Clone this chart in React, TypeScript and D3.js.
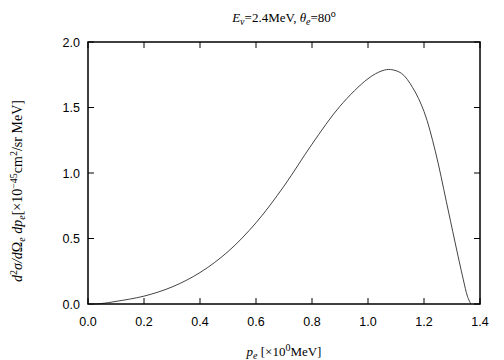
import React from "react";
import * as d3 from "d3";

const pe: number[] = [0.02, 0.05, 0.1, 0.2, 0.3, 0.4, 0.5, 0.6, 0.7, 0.8, 0.9, 1.0, 1.05, 1.08, 1.12, 1.16, 1.2, 1.24, 1.28, 1.31, 1.34, 1.355, 1.367];
const xsec: number[] = [0, 0.004, 0.02, 0.06, 0.13, 0.24, 0.40, 0.62, 0.90, 1.22, 1.51, 1.72, 1.78, 1.79, 1.76, 1.65, 1.47, 1.17, 0.78, 0.48, 0.19, 0.06, 0];
const xTicks: number[] = [0, 0.2, 0.4, 0.6, 0.8, 1.0, 1.2, 1.4];
const yTicks: number[] = [0, 0.5, 1.0, 1.5, 2.0];

const W = 504, H = 360;
const L = 88, R = 480, T = 42, B = 304;

export default function App() {
  const x = d3.scaleLinear().domain([0, 1.4]).range([L, R]);
  const y = d3.scaleLinear().domain([0, 2.0]).range([B, T]);
  const pts = pe.map((v, i) => [v, xsec[i]] as [number, number]);
  const line = d3.line<[number, number]>().x(d => x(d[0])).y(d => Math.min(B, y(d[1]))).curve(d3.curveCatmullRom.alpha(0.5));
  const tl = 6;
  const sans = "'Liberation Sans', Arial, sans-serif";
  const serif = "'Liberation Serif', 'Times New Roman', serif";
  return (
    <svg width={W} height={H} style={{ position: "absolute", left: 0, top: 0, background: "#fff" }}>
      <rect x={0} y={0} width={W} height={H} fill="#fff" />
      {xTicks.map((t, i) => (
        <g key={"x" + i}>
          <line x1={x(t)} x2={x(t)} y1={B} y2={B - tl} stroke="#000" strokeWidth={1} />
          <line x1={x(t)} x2={x(t)} y1={T} y2={T + tl} stroke="#000" strokeWidth={1} />
          <text x={x(t)} y={B + 22} textAnchor="middle" fontFamily={sans} fontSize={12.5} fill="#000">{t.toFixed(1)}</text>
        </g>
      ))}
      {yTicks.map((t, i) => (
        <g key={"y" + i}>
          <line x1={L} x2={L + tl} y1={y(t)} y2={y(t)} stroke="#000" strokeWidth={1} />
          <line x1={R} x2={R - tl} y1={y(t)} y2={y(t)} stroke="#000" strokeWidth={1} />
          <text x={L - 8} y={y(t) + 4.5} textAnchor="end" fontFamily={sans} fontSize={12.5} fill="#000">{t.toFixed(1)}</text>
        </g>
      ))}
      <path d={line(pts) || ""} fill="none" stroke="#444" strokeWidth={1} />
      <rect x={L} y={T} width={R - L} height={B - T} fill="none" stroke="#000" strokeWidth={1.5} />
      <text x={284} y={22} textAnchor="middle" fontFamily={serif} fontSize={13} fill="#000">
        <tspan fontStyle="italic">E</tspan>
        <tspan fontSize={10} dy={3} fontStyle="italic">ν</tspan>
        <tspan dy={-3}>=2.4MeV,  </tspan>
        <tspan fontStyle="italic">θ</tspan>
        <tspan fontSize={10} dy={3} fontStyle="italic">e</tspan>
        <tspan dy={-3}>=80</tspan>
        <tspan fontSize={10} dy={-5}>o</tspan>
      </text>
      <text x={284} y={356} textAnchor="middle" fontFamily={serif} fontSize={13} fill="#000">
        <tspan fontStyle="italic">p</tspan>
        <tspan fontSize={10} dy={3} fontStyle="italic">e</tspan>
        <tspan dy={-3}> [×10</tspan>
        <tspan fontSize={10} dy={-5}>0</tspan>
        <tspan dy={5}>MeV]</tspan>
      </text>
      <text transform={`translate(22,191) rotate(-90)`} textAnchor="middle" fontFamily={serif} fontSize={14} fill="#000">
        <tspan fontStyle="italic">d</tspan>
        <tspan fontSize={10} dy={-5}>2</tspan>
        <tspan dy={5} fontStyle="italic">σ/d</tspan>
        <tspan>Ω</tspan>
        <tspan fontSize={10} dy={3} fontStyle="italic">e</tspan>
        <tspan dy={-3} fontStyle="italic"> dp</tspan>
        <tspan fontSize={10} dy={3} fontStyle="italic">e</tspan>
        <tspan dy={-3}>[×10</tspan>
        <tspan fontSize={10} dy={-5}>−45</tspan>
        <tspan dy={5}>cm</tspan>
        <tspan fontSize={10} dy={-5}>2</tspan>
        <tspan dy={5}>/sr MeV]</tspan>
      </text>
    </svg>
  );
}
